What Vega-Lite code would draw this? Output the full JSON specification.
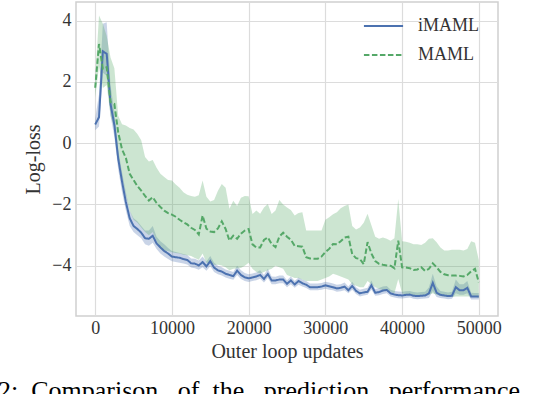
{
"$schema": "https://vega.github.io/schema/vega-lite/v6.json",
"autosize": {"type": "none"},
"width": 422,
"height": 314,
"padding": {"left": 76, "top": 2, "right": 36, "bottom": 78},
"background": "white",
"title": {"text": "2:\u00a0\u00a0Comparison\u00a0\u00a0\u00a0of\u00a0\u00a0the\u00a0\u00a0\u00a0prediction\u00a0\u00a0\u00a0performance", "orient": "bottom", "anchor": "start", "frame": "group", "dx": -78, "offset": 17, "fontSize": 26, "font": "Liberation Serif", "fontWeight": "normal", "color": "#000000"},
"config": {
  "view": {"stroke": "#d0d0d0", "strokeWidth": 1.5},
  "axis": {"labelFont": "Liberation Serif", "titleFont": "Liberation Serif", "labelFontSize": 18, "titleFontSize": 20, "titleFontWeight": "normal", "labelColor": "#333333", "titleColor": "#333333", "ticks": false, "tickSize": 0, "domain": false, "grid": true, "gridColor": "#dcdcdc", "gridWidth": 1.2},
  "legend": {"labelFont": "Liberation Serif", "labelFontSize": 18, "labelColor": "#333333"}
},
"data": {"values": [
{"s":0,"m":"iMAML","v":0.61,"lo":0.42,"hi":0.8},
{"s":500,"m":"iMAML","v":0.85,"lo":0.55,"hi":1.6},
{"s":1000,"m":"iMAML","v":3.0,"lo":2.3,"hi":3.9},
{"s":1500,"m":"iMAML","v":2.92,"lo":2.2,"hi":3.95},
{"s":2000,"m":"iMAML","v":1.28,"lo":0.9,"hi":1.9},
{"s":2500,"m":"iMAML","v":0.6,"lo":0.2,"hi":1.0},
{"s":3000,"m":"iMAML","v":-0.5,"lo":-0.85,"hi":-0.2},
{"s":3500,"m":"iMAML","v":-1.25,"lo":-1.6,"hi":-0.95},
{"s":4000,"m":"iMAML","v":-1.92,"lo":-2.2,"hi":-1.6},
{"s":4500,"m":"iMAML","v":-2.45,"lo":-2.7,"hi":-2.2},
{"s":5000,"m":"iMAML","v":-2.7,"lo":-2.9,"hi":-2.45},
{"s":5500,"m":"iMAML","v":-2.8,"lo":-3.0,"hi":-2.55},
{"s":6000,"m":"iMAML","v":-2.92,"lo":-3.1,"hi":-2.7},
{"s":6500,"m":"iMAML","v":-3.1,"lo":-3.3,"hi":-2.85},
{"s":7000,"m":"iMAML","v":-3.12,"lo":-3.35,"hi":-2.85},
{"s":7500,"m":"iMAML","v":-3.02,"lo":-3.25,"hi":-2.7},
{"s":8000,"m":"iMAML","v":-3.27,"lo":-3.45,"hi":-3.05},
{"s":8500,"m":"iMAML","v":-3.4,"lo":-3.6,"hi":-3.2},
{"s":9000,"m":"iMAML","v":-3.52,"lo":-3.7,"hi":-3.3},
{"s":9500,"m":"iMAML","v":-3.6,"lo":-3.78,"hi":-3.42},
{"s":10000,"m":"iMAML","v":-3.7,"lo":-3.85,"hi":-3.52},
{"s":10500,"m":"iMAML","v":-3.72,"lo":-3.88,"hi":-3.55},
{"s":11000,"m":"iMAML","v":-3.74,"lo":-3.9,"hi":-3.58},
{"s":11500,"m":"iMAML","v":-3.78,"lo":-3.93,"hi":-3.62},
{"s":12000,"m":"iMAML","v":-3.81,"lo":-3.96,"hi":-3.65},
{"s":12500,"m":"iMAML","v":-3.92,"lo":-4.06,"hi":-3.76},
{"s":13000,"m":"iMAML","v":-3.93,"lo":-4.08,"hi":-3.77},
{"s":13500,"m":"iMAML","v":-3.99,"lo":-4.13,"hi":-3.83},
{"s":14000,"m":"iMAML","v":-3.88,"lo":-4.05,"hi":-3.7},
{"s":14500,"m":"iMAML","v":-4.02,"lo":-4.16,"hi":-3.86},
{"s":15000,"m":"iMAML","v":-3.85,"lo":-4.02,"hi":-3.68},
{"s":15500,"m":"iMAML","v":-4.06,"lo":-4.2,"hi":-3.9},
{"s":16000,"m":"iMAML","v":-4.15,"lo":-4.28,"hi":-4.0},
{"s":16500,"m":"iMAML","v":-4.19,"lo":-4.32,"hi":-4.05},
{"s":17000,"m":"iMAML","v":-4.26,"lo":-4.38,"hi":-4.12},
{"s":17500,"m":"iMAML","v":-4.3,"lo":-4.42,"hi":-4.16},
{"s":18000,"m":"iMAML","v":-4.34,"lo":-4.46,"hi":-4.2},
{"s":18500,"m":"iMAML","v":-4.16,"lo":-4.3,"hi":-4.0},
{"s":19000,"m":"iMAML","v":-4.3,"lo":-4.43,"hi":-4.15},
{"s":19500,"m":"iMAML","v":-4.38,"lo":-4.5,"hi":-4.24},
{"s":20000,"m":"iMAML","v":-4.41,"lo":-4.53,"hi":-4.28},
{"s":20500,"m":"iMAML","v":-4.38,"lo":-4.5,"hi":-4.25},
{"s":21000,"m":"iMAML","v":-4.35,"lo":-4.47,"hi":-4.22},
{"s":21500,"m":"iMAML","v":-4.3,"lo":-4.42,"hi":-4.15},
{"s":22000,"m":"iMAML","v":-4.43,"lo":-4.55,"hi":-4.3},
{"s":22500,"m":"iMAML","v":-4.27,"lo":-4.4,"hi":-4.1},
{"s":23000,"m":"iMAML","v":-4.48,"lo":-4.6,"hi":-4.35},
{"s":23500,"m":"iMAML","v":-4.48,"lo":-4.6,"hi":-4.36},
{"s":24000,"m":"iMAML","v":-4.45,"lo":-4.57,"hi":-4.32},
{"s":24500,"m":"iMAML","v":-4.45,"lo":-4.57,"hi":-4.32},
{"s":25000,"m":"iMAML","v":-4.59,"lo":-4.7,"hi":-4.47},
{"s":25500,"m":"iMAML","v":-4.48,"lo":-4.6,"hi":-4.35},
{"s":26000,"m":"iMAML","v":-4.61,"lo":-4.72,"hi":-4.5},
{"s":26500,"m":"iMAML","v":-4.5,"lo":-4.62,"hi":-4.38},
{"s":27000,"m":"iMAML","v":-4.57,"lo":-4.68,"hi":-4.45},
{"s":27500,"m":"iMAML","v":-4.62,"lo":-4.73,"hi":-4.5},
{"s":28000,"m":"iMAML","v":-4.7,"lo":-4.8,"hi":-4.58},
{"s":28500,"m":"iMAML","v":-4.7,"lo":-4.8,"hi":-4.58},
{"s":29000,"m":"iMAML","v":-4.7,"lo":-4.8,"hi":-4.58},
{"s":29500,"m":"iMAML","v":-4.68,"lo":-4.78,"hi":-4.56},
{"s":30000,"m":"iMAML","v":-4.64,"lo":-4.75,"hi":-4.52},
{"s":30500,"m":"iMAML","v":-4.67,"lo":-4.78,"hi":-4.55},
{"s":31000,"m":"iMAML","v":-4.7,"lo":-4.8,"hi":-4.58},
{"s":31500,"m":"iMAML","v":-4.74,"lo":-4.85,"hi":-4.62},
{"s":32000,"m":"iMAML","v":-4.72,"lo":-4.83,"hi":-4.6},
{"s":32500,"m":"iMAML","v":-4.68,"lo":-4.8,"hi":-4.55},
{"s":33000,"m":"iMAML","v":-4.8,"lo":-4.9,"hi":-4.68},
{"s":33500,"m":"iMAML","v":-4.66,"lo":-4.78,"hi":-4.52},
{"s":34000,"m":"iMAML","v":-4.82,"lo":-4.92,"hi":-4.7},
{"s":34500,"m":"iMAML","v":-4.9,"lo":-5.0,"hi":-4.78},
{"s":35000,"m":"iMAML","v":-4.87,"lo":-4.97,"hi":-4.75},
{"s":35500,"m":"iMAML","v":-4.85,"lo":-4.95,"hi":-4.72},
{"s":36000,"m":"iMAML","v":-4.64,"lo":-4.78,"hi":-4.48},
{"s":36500,"m":"iMAML","v":-4.88,"lo":-4.98,"hi":-4.76},
{"s":37000,"m":"iMAML","v":-4.86,"lo":-4.96,"hi":-4.73},
{"s":37500,"m":"iMAML","v":-4.81,"lo":-4.92,"hi":-4.68},
{"s":38000,"m":"iMAML","v":-4.79,"lo":-4.9,"hi":-4.66},
{"s":38500,"m":"iMAML","v":-4.9,"lo":-5.0,"hi":-4.78},
{"s":39000,"m":"iMAML","v":-4.94,"lo":-5.04,"hi":-4.82},
{"s":39500,"m":"iMAML","v":-4.96,"lo":-5.06,"hi":-4.84},
{"s":40000,"m":"iMAML","v":-4.97,"lo":-5.07,"hi":-4.85},
{"s":40500,"m":"iMAML","v":-4.95,"lo":-5.05,"hi":-4.83},
{"s":41000,"m":"iMAML","v":-4.94,"lo":-5.04,"hi":-4.82},
{"s":41500,"m":"iMAML","v":-4.98,"lo":-5.08,"hi":-4.86},
{"s":42000,"m":"iMAML","v":-4.99,"lo":-5.09,"hi":-4.87},
{"s":42500,"m":"iMAML","v":-4.98,"lo":-5.08,"hi":-4.86},
{"s":43000,"m":"iMAML","v":-4.97,"lo":-5.07,"hi":-4.85},
{"s":43500,"m":"iMAML","v":-4.9,"lo":-5.05,"hi":-4.7},
{"s":44000,"m":"iMAML","v":-4.56,"lo":-4.82,"hi":-4.26},
{"s":44500,"m":"iMAML","v":-4.88,"lo":-5.02,"hi":-4.68},
{"s":45000,"m":"iMAML","v":-4.95,"lo":-5.05,"hi":-4.82},
{"s":45500,"m":"iMAML","v":-4.97,"lo":-5.07,"hi":-4.85},
{"s":46000,"m":"iMAML","v":-4.99,"lo":-5.09,"hi":-4.87},
{"s":46500,"m":"iMAML","v":-4.98,"lo":-5.08,"hi":-4.85},
{"s":47000,"m":"iMAML","v":-4.7,"lo":-4.9,"hi":-4.45},
{"s":47500,"m":"iMAML","v":-4.8,"lo":-4.95,"hi":-4.6},
{"s":48000,"m":"iMAML","v":-4.8,"lo":-4.95,"hi":-4.6},
{"s":48500,"m":"iMAML","v":-4.72,"lo":-4.9,"hi":-4.5},
{"s":49000,"m":"iMAML","v":-5.0,"lo":-5.1,"hi":-4.88},
{"s":49500,"m":"iMAML","v":-5.0,"lo":-5.1,"hi":-4.89},
{"s":50000,"m":"iMAML","v":-5.0,"lo":-5.1,"hi":-4.89},
{"s":0,"m":"MAML","v":1.81,"lo":1.5,"hi":2.1},
{"s":500,"m":"MAML","v":3.24,"lo":2.5,"hi":4.17},
{"s":1000,"m":"MAML","v":2.43,"lo":1.8,"hi":3.9},
{"s":1500,"m":"MAML","v":2.48,"lo":1.9,"hi":3.5},
{"s":2000,"m":"MAML","v":1.34,"lo":0.9,"hi":2.8},
{"s":2500,"m":"MAML","v":1.28,"lo":0.5,"hi":2.45},
{"s":3000,"m":"MAML","v":0.35,"lo":-0.4,"hi":0.9},
{"s":3500,"m":"MAML","v":-0.2,"lo":-1.1,"hi":0.62},
{"s":4000,"m":"MAML","v":-0.48,"lo":-1.7,"hi":0.58},
{"s":4500,"m":"MAML","v":-1.0,"lo":-2.2,"hi":0.5},
{"s":5000,"m":"MAML","v":-1.2,"lo":-2.5,"hi":0.45},
{"s":5500,"m":"MAML","v":-1.4,"lo":-2.6,"hi":0.3},
{"s":6000,"m":"MAML","v":-1.55,"lo":-2.75,"hi":0.1},
{"s":6500,"m":"MAML","v":-1.72,"lo":-2.9,"hi":-0.45},
{"s":7000,"m":"MAML","v":-1.87,"lo":-3.0,"hi":-0.6},
{"s":7500,"m":"MAML","v":-1.76,"lo":-2.9,"hi":-0.55},
{"s":8000,"m":"MAML","v":-1.95,"lo":-3.2,"hi":-0.8},
{"s":8500,"m":"MAML","v":-2.08,"lo":-3.45,"hi":-1.0},
{"s":9000,"m":"MAML","v":-2.2,"lo":-3.5,"hi":-1.1},
{"s":9500,"m":"MAML","v":-2.28,"lo":-3.52,"hi":-1.2},
{"s":10000,"m":"MAML","v":-2.33,"lo":-3.56,"hi":-1.22},
{"s":10500,"m":"MAML","v":-2.4,"lo":-3.58,"hi":-1.35},
{"s":11000,"m":"MAML","v":-2.5,"lo":-3.6,"hi":-1.45},
{"s":11500,"m":"MAML","v":-2.58,"lo":-3.64,"hi":-1.6},
{"s":12000,"m":"MAML","v":-2.65,"lo":-3.66,"hi":-1.68},
{"s":12500,"m":"MAML","v":-2.76,"lo":-3.68,"hi":-1.72},
{"s":13000,"m":"MAML","v":-2.83,"lo":-3.75,"hi":-1.75},
{"s":13500,"m":"MAML","v":-2.98,"lo":-3.8,"hi":-1.7},
{"s":14000,"m":"MAML","v":-2.36,"lo":-3.6,"hi":-1.22},
{"s":14500,"m":"MAML","v":-2.79,"lo":-3.9,"hi":-1.75},
{"s":15000,"m":"MAML","v":-2.88,"lo":-3.95,"hi":-1.9},
{"s":15500,"m":"MAML","v":-2.9,"lo":-3.97,"hi":-1.85},
{"s":16000,"m":"MAML","v":-2.78,"lo":-3.97,"hi":-1.55},
{"s":16500,"m":"MAML","v":-2.55,"lo":-3.99,"hi":-1.33},
{"s":17000,"m":"MAML","v":-2.8,"lo":-4.05,"hi":-1.45},
{"s":17500,"m":"MAML","v":-3.18,"lo":-4.15,"hi":-2.14},
{"s":18000,"m":"MAML","v":-3.02,"lo":-4.1,"hi":-1.88},
{"s":18500,"m":"MAML","v":-3.12,"lo":-4.08,"hi":-2.05},
{"s":19000,"m":"MAML","v":-2.95,"lo":-4.07,"hi":-1.78},
{"s":19500,"m":"MAML","v":-2.85,"lo":-4.0,"hi":-1.72},
{"s":20000,"m":"MAML","v":-2.8,"lo":-3.9,"hi":-1.73},
{"s":20500,"m":"MAML","v":-3.3,"lo":-4.1,"hi":-2.31},
{"s":21000,"m":"MAML","v":-3.4,"lo":-4.2,"hi":-2.2},
{"s":21500,"m":"MAML","v":-3.4,"lo":-4.25,"hi":-2.3},
{"s":22000,"m":"MAML","v":-3.16,"lo":-4.2,"hi":-2.1},
{"s":22500,"m":"MAML","v":-3.07,"lo":-4.15,"hi":-1.98},
{"s":23000,"m":"MAML","v":-3.29,"lo":-4.1,"hi":-2.31},
{"s":23500,"m":"MAML","v":-3.39,"lo":-4.0,"hi":-2.2},
{"s":24000,"m":"MAML","v":-3.05,"lo":-4.05,"hi":-1.85},
{"s":24500,"m":"MAML","v":-2.92,"lo":-4.1,"hi":-2.0},
{"s":25000,"m":"MAML","v":-3.05,"lo":-4.3,"hi":-2.1},
{"s":25500,"m":"MAML","v":-3.15,"lo":-4.35,"hi":-2.18},
{"s":26000,"m":"MAML","v":-3.35,"lo":-4.4,"hi":-2.36},
{"s":26500,"m":"MAML","v":-3.36,"lo":-4.4,"hi":-2.28},
{"s":27000,"m":"MAML","v":-3.38,"lo":-4.45,"hi":-2.25},
{"s":27500,"m":"MAML","v":-3.72,"lo":-4.5,"hi":-2.85},
{"s":28000,"m":"MAML","v":-3.76,"lo":-4.5,"hi":-2.85},
{"s":28500,"m":"MAML","v":-3.77,"lo":-4.5,"hi":-2.85},
{"s":29000,"m":"MAML","v":-3.77,"lo":-4.5,"hi":-2.85},
{"s":29500,"m":"MAML","v":-3.7,"lo":-4.45,"hi":-2.85},
{"s":30000,"m":"MAML","v":-3.55,"lo":-4.4,"hi":-2.5},
{"s":30500,"m":"MAML","v":-3.45,"lo":-4.35,"hi":-2.42},
{"s":31000,"m":"MAML","v":-3.29,"lo":-4.26,"hi":-2.32},
{"s":31500,"m":"MAML","v":-3.3,"lo":-4.3,"hi":-2.25},
{"s":32000,"m":"MAML","v":-3.2,"lo":-4.35,"hi":-2.12},
{"s":32500,"m":"MAML","v":-3.08,"lo":-4.4,"hi":-2.05},
{"s":33000,"m":"MAML","v":-3.05,"lo":-4.45,"hi":-2.0},
{"s":33500,"m":"MAML","v":-3.62,"lo":-4.6,"hi":-2.7},
{"s":34000,"m":"MAML","v":-3.75,"lo":-4.65,"hi":-2.82},
{"s":34500,"m":"MAML","v":-3.78,"lo":-4.7,"hi":-2.75},
{"s":35000,"m":"MAML","v":-3.95,"lo":-4.7,"hi":-2.6},
{"s":35500,"m":"MAML","v":-3.23,"lo":-4.5,"hi":-2.3},
{"s":36000,"m":"MAML","v":-3.6,"lo":-4.6,"hi":-2.68},
{"s":36500,"m":"MAML","v":-3.85,"lo":-4.7,"hi":-3.05},
{"s":37000,"m":"MAML","v":-3.94,"lo":-4.75,"hi":-3.12},
{"s":37500,"m":"MAML","v":-3.97,"lo":-4.8,"hi":-3.08},
{"s":38000,"m":"MAML","v":-3.99,"lo":-4.8,"hi":-3.12},
{"s":38500,"m":"MAML","v":-4.0,"lo":-4.85,"hi":-3.18},
{"s":39000,"m":"MAML","v":-4.08,"lo":-4.9,"hi":-3.1},
{"s":39500,"m":"MAML","v":-3.18,"lo":-4.43,"hi":-1.82},
{"s":40000,"m":"MAML","v":-4.05,"lo":-4.9,"hi":-3.2},
{"s":40500,"m":"MAML","v":-4.06,"lo":-4.95,"hi":-3.22},
{"s":41000,"m":"MAML","v":-4.08,"lo":-4.95,"hi":-3.25},
{"s":41500,"m":"MAML","v":-4.14,"lo":-4.97,"hi":-3.3},
{"s":42000,"m":"MAML","v":-4.12,"lo":-4.97,"hi":-3.3},
{"s":42500,"m":"MAML","v":-4.05,"lo":-4.95,"hi":-3.32},
{"s":43000,"m":"MAML","v":-4.17,"lo":-4.98,"hi":-3.25},
{"s":43500,"m":"MAML","v":-4.1,"lo":-4.95,"hi":-3.12},
{"s":44000,"m":"MAML","v":-3.92,"lo":-4.9,"hi":-3.1},
{"s":44500,"m":"MAML","v":-4.05,"lo":-4.95,"hi":-3.23},
{"s":45000,"m":"MAML","v":-4.2,"lo":-4.98,"hi":-3.4},
{"s":45500,"m":"MAML","v":-4.28,"lo":-5.0,"hi":-3.5},
{"s":46000,"m":"MAML","v":-4.31,"lo":-5.02,"hi":-3.5},
{"s":46500,"m":"MAML","v":-4.32,"lo":-5.02,"hi":-3.48},
{"s":47000,"m":"MAML","v":-4.32,"lo":-5.0,"hi":-3.48},
{"s":47500,"m":"MAML","v":-4.33,"lo":-5.0,"hi":-3.48},
{"s":48000,"m":"MAML","v":-4.35,"lo":-5.0,"hi":-3.5},
{"s":48500,"m":"MAML","v":-4.3,"lo":-5.0,"hi":-3.45},
{"s":49000,"m":"MAML","v":-4.18,"lo":-5.0,"hi":-3.2},
{"s":49500,"m":"MAML","v":-4.1,"lo":-5.0,"hi":-3.25},
{"s":50000,"m":"MAML","v":-4.54,"lo":-5.05,"hi":-3.82}
]},
"encoding": {
  "x": {"field": "s", "type": "quantitative", "scale": {"domain": [-2500, 52500], "nice": false, "zero": false}, "axis": {"values": [0, 10000, 20000, 30000, 40000, 50000], "format": "d", "title": "Outer loop updates", "labelPadding": 3, "titlePadding": 4}}
},
"layer": [
  {"mark": {"type": "area", "fillOpacity": 0.3, "strokeWidth": 0},
   "encoding": {
     "y": {"field": "lo", "type": "quantitative", "scale": {"domain": [-5.64, 4.61], "nice": false, "zero": false}, "axis": {"values": [-4, -2, 0, 2, 4], "title": "Log-loss", "labelPadding": 5, "titlePadding": 8}},
     "y2": {"field": "hi"},
     "fill": {"field": "m", "type": "nominal", "scale": {"domain": ["MAML", "iMAML"], "range": ["#55A868", "#4C72B0"]}, "legend": null}
   }},
  {"mark": {"type": "line", "strokeWidth": 2},
   "encoding": {
     "y": {"field": "v", "type": "quantitative"},
     "color": {"field": "m", "type": "nominal", "scale": {"domain": ["iMAML", "MAML"], "range": ["#4C72B0", "#55A868"]},
       "legend": {"title": null, "orient": "none", "legendX": 293, "legendY": 9.5, "symbolType": "M-1.45,0H1.45", "symbolSize": 729, "symbolStrokeWidth": 2, "labelOffset": 20, "rowPadding": 5}},
     "strokeDash": {"field": "m", "type": "nominal", "scale": {"domain": ["iMAML", "MAML"], "range": [[1, 0], [5.5, 2.5]]},
       "legend": {"title": null, "orient": "none", "legendX": 293, "legendY": 9.5, "symbolType": "M-1.45,0H1.45", "symbolSize": 729, "symbolStrokeWidth": 2, "labelOffset": 20, "rowPadding": 5}}
   }}
]
}
